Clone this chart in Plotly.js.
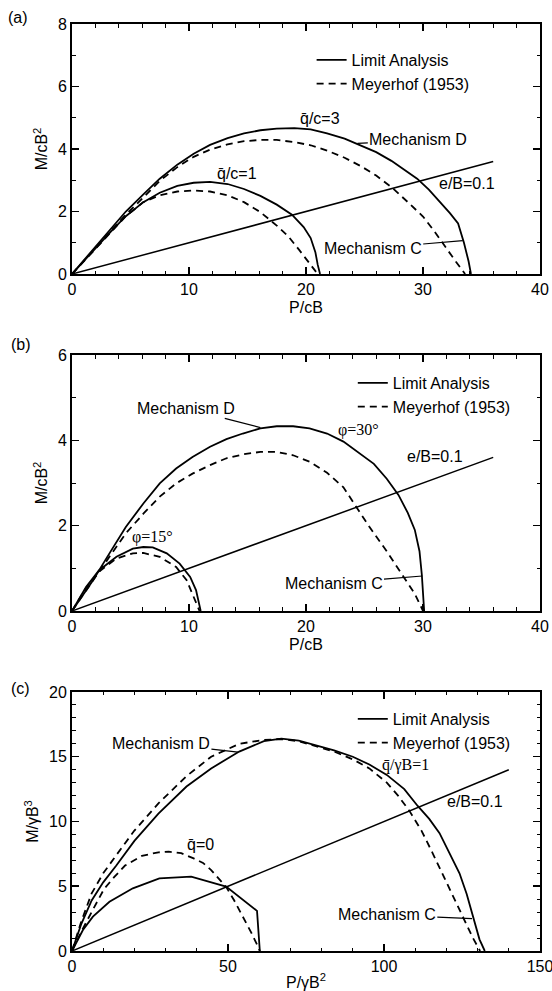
<!DOCTYPE html>
<html>
<head>
<meta charset="utf-8">
<script src="https://cdn.plot.ly/plotly-3.0.1.min.js"></script>
<style>html,body{margin:0;padding:0;background:#fff;}#chart{width:552px;height:991px;}</style>
</head>
<body>
<div id="chart"></div>
<script>
// ---------- Panel (a): q/c = 3 and q/c = 1 ----------
const P_a_la3 = [0, 1.8, 3.3, 4.6, 6.1, 7.5, 9.0, 10.4, 11.8, 13.3, 14.7, 16.1, 17.5, 19.0, 20.4, 21.8, 23.3, 24.7, 26.0, 27.3, 28.5, 29.5, 30.5, 31.5, 32.3, 33.0, 33.5, 33.9, 34.1];
const M_a_la3 = [0, 0.78, 1.42, 2.0, 2.55, 3.05, 3.5, 3.85, 4.13, 4.35, 4.5, 4.6, 4.65, 4.67, 4.63, 4.5, 4.33, 4.12, 3.9, 3.62, 3.3, 3.05, 2.7, 2.3, 1.95, 1.62, 1.0, 0.4, 0];
const P_a_my3 = [0, 1.8, 3.3, 4.6, 6.1, 7.5, 9.0, 10.4, 11.8, 13.3, 14.7, 16.1, 17.5, 19.0, 20.4, 21.8, 23.3, 24.7, 26.0, 27.4, 28.7, 30.0, 31.0, 32.0, 32.8, 33.3, 33.6];
const M_a_my3 = [0, 0.75, 1.35, 1.9, 2.45, 2.98, 3.42, 3.75, 3.98, 4.15, 4.25, 4.29, 4.29, 4.22, 4.12, 3.95, 3.72, 3.45, 3.15, 2.75, 2.3, 1.84, 1.35, 0.8, 0.4, 0.15, 0];
const P_a_la1 = [0, 1.8, 3.3, 4.6, 6.1, 7.5, 9.0, 10.4, 11.8, 13.3, 14.7, 16.1, 17.5, 18.8, 19.8, 20.4, 20.8, 21.0, 21.2];
const M_a_la1 = [0, 0.75, 1.35, 1.85, 2.3, 2.6, 2.82, 2.92, 2.95, 2.88, 2.72, 2.5, 2.22, 1.9, 1.5, 1.15, 0.7, 0.3, 0];
const P_a_my1 = [0, 1.8, 3.3, 4.6, 6.1, 7.5, 9.0, 10.4, 11.8, 13.3, 14.7, 16.1, 17.5, 18.5, 19.4, 20.2, 20.7, 21.0];
const M_a_my1 = [0, 0.72, 1.3, 1.85, 2.3, 2.52, 2.64, 2.67, 2.64, 2.52, 2.3, 1.98, 1.55, 1.2, 0.78, 0.38, 0.12, 0];
const P_a_ecc = [0, 36];
const M_a_ecc = [0, 3.6];

// ---------- Panel (b): phi = 30 deg and phi = 15 deg ----------
const P_b_la30 = [0, 1.8, 3.2, 4.6, 6.1, 7.5, 8.9, 10.3, 11.8, 13.2, 14.6, 16.1, 17.5, 18.9, 20.3, 21.8, 23.2, 24.6, 25.8, 26.9, 27.9, 28.7, 29.3, 29.7, 29.9, 30.1];
const M_b_la30 = [0, 0.72, 1.35, 1.97, 2.52, 2.99, 3.34, 3.61, 3.85, 4.03, 4.16, 4.28, 4.33, 4.33, 4.28, 4.16, 3.97, 3.7, 3.45, 3.1, 2.72, 2.3, 1.9, 1.4, 0.85, 0];
const P_b_my30 = [0, 1.8, 3.2, 4.6, 6.1, 7.5, 8.9, 10.3, 11.8, 13.2, 14.6, 16.1, 17.5, 18.9, 20.3, 21.8, 23.2, 24.2, 25.4, 26.9, 28.4, 29.3, 30.0];
const M_b_my30 = [0, 0.7, 1.27, 1.82, 2.28, 2.68, 2.99, 3.22, 3.42, 3.58, 3.67, 3.73, 3.73, 3.65, 3.5, 3.24, 2.9, 2.48, 1.98, 1.4, 0.78, 0.4, 0];
const P_b_la15 = [0, 1.2, 2.3, 3.8, 5.2, 6.1, 6.9, 8.1, 9.2, 10.1, 10.6, 10.9, 11.0];
const M_b_la15 = [0, 0.56, 0.95, 1.27, 1.46, 1.5, 1.49, 1.35, 1.11, 0.8, 0.49, 0.17, 0];
const P_b_my15 = [0, 1.2, 2.3, 3.8, 5.2, 6.1, 7.5, 8.9, 9.8, 10.3, 10.8, 10.9];
const M_b_my15 = [0, 0.54, 0.92, 1.23, 1.35, 1.36, 1.27, 1.03, 0.72, 0.41, 0.09, 0];
const P_b_ecc = [0, 36];
const M_b_ecc = [0, 3.6];

// ---------- Panel (c): q/gammaB = 1 and q = 0 ----------
const P_c_la1 = [0, 3, 6.3, 10, 14.2, 20, 27.7, 36.7, 44.6, 53.6, 61.5, 67.1, 72.7, 78, 84, 90, 95.3, 100.9, 106.5, 110.8, 114.5, 117.8, 121, 124.2, 126.5, 128.5, 130.6, 132.3];
const M_c_la1 = [0, 2.1, 3.9, 5.3, 6.6, 8.5, 10.6, 12.7, 14.1, 15.4, 16.2, 16.4, 16.25, 15.9, 15.5, 15.0, 14.4, 13.6, 12.5, 11.2, 10.2, 9.1, 7.6, 6.0, 4.4, 2.7, 0.9, 0];
const P_c_my1 = [0, 3, 6.3, 10, 14.2, 20, 27.7, 36.7, 44.6, 53.6, 61.5, 67.1, 72.7, 78, 84, 90, 95.3, 100.9, 104.5, 108.2, 112, 115.5, 119, 122.5, 125.5, 128.5, 130.8];
const M_c_my1 = [0, 2.3, 4.45, 6.0, 7.4, 9.3, 11.4, 13.5, 15.0, 16.0, 16.3, 16.37, 16.2, 15.85, 15.4, 14.8, 14.1, 13.0, 12.0, 10.8, 9.3, 7.6, 5.8, 4.0, 2.5, 1.0, 0];
const P_c_la0 = [0, 3.5, 6.7, 12.0, 19.5, 28.0, 38.2, 49.4, 59.3, 60.2];
const M_c_la0 = [0, 1.62, 2.65, 3.8, 4.84, 5.61, 5.74, 4.97, 3.1, 0];
const P_c_my0 = [0, 3.2, 6.5, 10.3, 13.5, 17, 22.4, 27.7, 31, 35, 39, 42, 44.6, 47, 49.4, 52, 55, 57.5, 59.3, 60.2];
const M_c_my0 = [0, 1.6, 3.1, 4.8, 5.7, 6.6, 7.35, 7.62, 7.67, 7.55, 7.15, 6.8, 6.25, 5.6, 4.95, 3.9, 2.6, 1.4, 0.5, 0];
const P_c_ecc = [0, 140];
const M_c_ecc = [0, 14.0];

// ---------- Text ----------
const legendNames = ["Limit Analysis", "Meyerhof (1953)"];
const panelLabels = ["(a)", "(b)", "(c)"];
const xTitles = ["P/cB", "P/cB", "P/γB<sup>2</sup>"];
const yTitles = ["M/cB<sup>2</sup>", "M/cB<sup>2</sup>", "M/γB<sup>3</sup>"];

const SANS = "Liberation Sans, Arial, Helvetica, sans-serif";
const SERIF = "Liberation Serif, Times New Roman, serif";
const solid = {color: "#000", width: 1.8, dash: "solid"};
const dashed = {color: "#000", width: 1.8, dash: "7px,5px"};
const thin = {color: "#000", width: 1.5, dash: "solid"};

function tr(x, y, xa, ya, line, name, show, leg) {
  return {type: "scatter", mode: "lines", x: x, y: y, xaxis: xa, yaxis: ya,
          line: line, name: name, showlegend: show, legend: leg, hoverinfo: "skip"};
}

const data = [
  tr(P_a_la3, M_a_la3, "x", "y", solid, legendNames[0], true, "legend"),
  tr(P_a_my3, M_a_my3, "x", "y", dashed, legendNames[1], true, "legend"),
  tr(P_a_la1, M_a_la1, "x", "y", solid, legendNames[0], false, "legend"),
  tr(P_a_my1, M_a_my1, "x", "y", dashed, legendNames[1], false, "legend"),
  tr(P_a_ecc, M_a_ecc, "x", "y", thin, "e/B=0.1", false, "legend"),

  tr(P_b_la30, M_b_la30, "x2", "y2", solid, legendNames[0], true, "legend2"),
  tr(P_b_my30, M_b_my30, "x2", "y2", dashed, legendNames[1], true, "legend2"),
  tr(P_b_la15, M_b_la15, "x2", "y2", solid, legendNames[0], false, "legend2"),
  tr(P_b_my15, M_b_my15, "x2", "y2", dashed, legendNames[1], false, "legend2"),
  tr(P_b_ecc, M_b_ecc, "x2", "y2", thin, "e/B=0.1", false, "legend2"),

  tr(P_c_la1, M_c_la1, "x3", "y3", solid, legendNames[0], true, "legend3"),
  tr(P_c_my1, M_c_my1, "x3", "y3", dashed, legendNames[1], true, "legend3"),
  tr(P_c_la0, M_c_la0, "x3", "y3", solid, legendNames[0], false, "legend3"),
  tr(P_c_my0, M_c_my0, "x3", "y3", dashed, legendNames[1], false, "legend3"),
  tr(P_c_ecc, M_c_ecc, "x3", "y3", thin, "e/B=0.1", false, "legend3")
];

function xax(range, dtick, minor, anchor, title) {
  return {range: range, dtick: dtick, tick0: 0, anchor: anchor, domain: [0, 1],
          showline: true, linecolor: "#000", linewidth: 2, mirror: "ticks",
          ticks: "inside", ticklen: 7, tickwidth: 1.5, tickcolor: "#000",
          minor: {dtick: minor, ticks: "inside", ticklen: 3.5, tickwidth: 1, tickcolor: "#000", showgrid: false},
          showgrid: false, zeroline: false, fixedrange: true, ticklabeloverflow: "allow",
          tickfont: {family: SANS, size: 16, color: "#000"},
          title: {text: title, font: {family: SANS, size: 16, color: "#000"}, standoff: 5}};
}
function yax(range, dtick, minor, anchor, domain, title) {
  const a = xax(range, dtick, minor, anchor, title);
  a.domain = domain;
  a.title.standoff = 6;
  return a;
}

const legBase = {xanchor: "left", yanchor: "top", bgcolor: "rgba(0,0,0,0)", borderwidth: 0,
                 font: {family: SANS, size: 16, color: "#000"}, itemwidth: 30, tracegroupgap: 0};

function note(text, xr, yr, x, y, font) {
  return {text: text, xref: xr, yref: yr, x: x, y: y, showarrow: false,
          xanchor: "center", yanchor: "middle",
          font: {family: font || SANS, size: 16, color: "#000"}};
}
function lead(text, xr, yr, tipX, tipY, textX, textY) {
  return {text: text, xref: xr, yref: yr, x: tipX, y: tipY, axref: xr, ayref: yr, ax: textX, ay: textY,
          showarrow: true, arrowhead: 0, arrowwidth: 1.2, arrowcolor: "#000", standoff: 0, startstandoff: 0,
          font: {family: SANS, size: 16, color: "#000"}};
}

const annotations = [
  note(panelLabels[0], "paper", "paper", -0.115, 1.0065),
  note(panelLabels[1], "paper", "paper", -0.109, 0.6548),
  note(panelLabels[2], "paper", "paper", -0.109, 0.2837),

  note("q̄/c=3", "x", "y", 21.2, 4.98),
  note("q̄/c=1", "x", "y", 14.1, 3.22),
  note("e/B=0.1", "x", "y", 33.8, 2.9),
  lead("Mechanism D", "x", "y", 24.4, 4.18, 29.6, 4.29),
  lead("Mechanism C", "x", "y", 33.4, 1.07, 25.7, 0.82),

  note("φ=30°", "x2", "y2", 24.45, 4.24, SERIF),
  note("φ=15°", "x2", "y2", 6.84, 1.74, SERIF),
  note("e/B=0.1", "x2", "y2", 31.0, 3.62),
  lead("Mechanism D", "x2", "y2", 16.1, 4.3, 9.75, 4.75),
  lead("Mechanism C", "x2", "y2", 29.94, 0.82, 22.35, 0.65),

  note("q̄/γB=1", "x3", "y3", 106.9, 14.36, SERIF),
  note("q̄=0", "x3", "y3", 41.2, 8.19),
  note("e/B=0.1", "x3", "y3", 129.3, 11.53),
  lead("Mechanism D", "x3", "y3", 53.2, 15.35, 28.5, 16.04),
  lead("Mechanism C", "x3", "y3", 128.2, 2.5, 100.9, 2.78)
];

const layout = {
  width: 552, height: 991,
  margin: {l: 72, r: 12, t: 24, b: 40},
  paper_bgcolor: "#fff", plot_bgcolor: "#fff",
  font: {family: SANS, size: 16, color: "#000"},
  xaxis: xax([0, 40], 10, 2, "y", xTitles[0]),
  yaxis: yax([0, 8], 2, 1, "x", [0.7303, 1], yTitles[0]),
  xaxis2: xax([0, 40], 10, 2, "y2", xTitles[1]),
  yaxis2: yax([0, 6], 2, 1, "x2", [0.3668, 0.6429], yTitles[1]),
  xaxis3: xax([0, 150], 50, 10, "y3", xTitles[2]),
  yaxis3: yax([0, 20], 5, 1, "x3", [0, 0.2794], yTitles[2]),
  legend: Object.assign({}, legBase, {x: 0.512, y: 0.9795}),
  legend2: Object.assign({}, legBase, {x: 0.600, y: 0.6311}),
  legend3: Object.assign({}, legBase, {x: 0.600, y: 0.2686}),
  annotations: annotations,
  showlegend: true
};

Plotly.newPlot("chart", data, layout, {staticPlot: true, displayModeBar: false});
</script>
</body>
</html>
